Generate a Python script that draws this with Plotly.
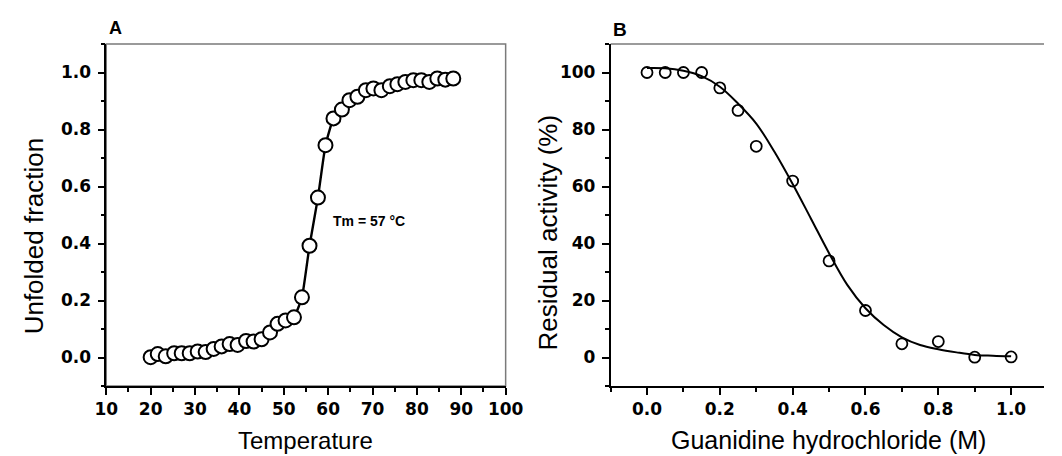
import plotly.graph_objects as go

# Panel A: thermal unfolding
temperature = [20.0, 21.6, 23.4, 25.3, 27.0, 28.8, 30.6, 32.4, 34.2, 36.0, 37.8, 39.6,
               41.5, 43.2, 45.0, 46.9, 48.6, 50.4, 52.3, 54.1, 55.8, 57.7, 59.4, 61.2,
               63.1, 64.8, 66.6, 68.5, 70.2, 72.0, 73.9, 75.6, 77.4, 79.2, 81.0, 82.8,
               84.6, 86.4, 88.2]
unfolded = [0.001, 0.012, 0.004, 0.015, 0.015, 0.015, 0.021, 0.019, 0.030, 0.039, 0.047, 0.044,
            0.058, 0.056, 0.064, 0.088, 0.118, 0.130, 0.141, 0.211, 0.392, 0.561, 0.745, 0.839,
            0.870, 0.903, 0.915, 0.938, 0.944, 0.938, 0.952, 0.959, 0.967, 0.973, 0.973, 0.967,
            0.979, 0.975, 0.979]

# Panel B: GdnHCl inactivation
gdn = [0.0, 0.05, 0.10, 0.15, 0.20, 0.25, 0.30, 0.40, 0.50, 0.60, 0.70, 0.80, 0.90, 1.00]
activity = [100.0, 100.0, 100.0, 100.0, 94.6, 86.7, 74.1, 61.9, 33.9, 16.5, 4.8, 5.6, 0.1, 0.2]

# fitted curve
fit_x = [0.0, 0.05, 0.10, 0.15, 0.20, 0.25, 0.30, 0.35, 0.40, 0.45, 0.50,
         0.55, 0.60, 0.65, 0.70, 0.75, 0.80, 0.85, 0.90, 0.95, 1.00]
fit_y = [101.6, 101.5, 100.6, 98.7, 95.0, 89.1, 82.1, 72.2, 60.9, 48.8, 36.6,
         25.5, 17.3, 11.4, 7.1, 4.4, 2.9, 1.8, 0.9, 0.6, 0.4]

W, H = 1062, 456
def px(x):
    return x / W
def py(y):
    return 1 - y / H

fig = go.Figure()
fig.add_trace(go.Scatter(x=temperature, y=unfolded, mode="lines+markers",
                         line=dict(color="black", width=2.4, shape="spline", smoothing=0.4),
                         marker=dict(symbol="circle", size=14, color="white",
                                     line=dict(color="black", width=2)),
                         xaxis="x", yaxis="y", showlegend=False))
fig.add_trace(go.Scatter(x=fit_x, y=fit_y, mode="lines",
                         line=dict(color="black", width=2, shape="spline"),
                         xaxis="x2", yaxis="y2", showlegend=False))
fig.add_trace(go.Scatter(x=gdn, y=activity, mode="markers",
                         marker=dict(symbol="circle", size=11, color="rgba(255,255,255,0)",
                                     line=dict(color="black", width=1.8)),
                         xaxis="x2", yaxis="y2", showlegend=False))

tickfont = dict(family="DejaVu Sans", size=17, color="black", weight="bold")
common = dict(showline=True, linecolor="black", linewidth=1.5, ticks="outside",
              ticklen=7, tickwidth=1.5, tickcolor="black", showgrid=False,
              zeroline=False, tickfont=tickfont, mirror=False)

ydom = [py(386), py(44)]
fig.update_layout(
    width=W, height=H,
    margin=dict(l=0, r=0, t=0, b=0),
    paper_bgcolor="white", plot_bgcolor="white",
    xaxis=dict(domain=[px(97), px(508)], range=[10, 100], tick0=10, dtick=10,
               anchor="y", ticklabelstandoff=0,
               minor=dict(ticks="outside", ticklen=4, dtick=5, tick0=10, tickcolor="black", tickwidth=1.5),
               **common),
    yaxis=dict(domain=ydom, range=[-0.1, 1.1], tick0=0, dtick=0.2, tickformat=".1f",
               anchor="x", ticklabelstandoff=3,
               minor=dict(ticks="outside", ticklen=4, dtick=0.1, tick0=0, tickcolor="black", tickwidth=1.5),
               **common),
    xaxis2=dict(domain=[px(616), 1.0], range=[-0.1, -0.1 + (W - 616) / 374.7], tick0=0, dtick=0.2,
                tickformat=".1f", anchor="y2", ticklabelstandoff=0,
                minor=dict(ticks="outside", ticklen=4, dtick=0.1, tick0=0, tickcolor="black", tickwidth=1.5),
                **common),
    yaxis2=dict(domain=ydom, range=[-10, 110], tick0=0, dtick=20,
                anchor="x2", ticklabelstandoff=3,
                minor=dict(ticks="outside", ticklen=4, dtick=10, tick0=0, tickcolor="black", tickwidth=1.5),
                **common),
)

# gray top/right frame lines
fig.add_shape(type="rect", xref="x domain", yref="y domain", x0=0, x1=1, y0=0, y1=1,
              line=dict(color="#7a7a7a", width=1.5), layer="below")
fig.add_shape(type="line", xref="x2 domain", yref="y2 domain", x0=0, x1=1, y0=1, y1=1,
              line=dict(color="#7a7a7a", width=1.5), layer="below")

title_font = dict(family="Liberation Sans", size=26, color="black")
fig.add_annotation(text="Unfolded fraction", x=px(23), y=py(236), xref="paper", yref="paper",
                   textangle=-90, showarrow=False, font=title_font, xanchor="center", yanchor="middle")
fig.add_annotation(text="Residual activity (%)", x=px(552), y=py(232), xref="paper", yref="paper",
                   textangle=-90, showarrow=False, font=title_font, xanchor="center", yanchor="middle")
fig.add_annotation(text="Temperature", x=px(302), y=py(440), xref="paper", yref="paper",
                   showarrow=False, font=dict(family="Liberation Sans", size=24, color="black"),
                   xanchor="center", yanchor="middle")
fig.add_annotation(text="Guanidine hydrochloride (M)", x=px(840), y=py(440), xref="paper", yref="paper",
                   showarrow=False, font=dict(family="Liberation Sans", size=25, color="black"),
                   xanchor="center", yanchor="middle")
fig.add_annotation(text="<b>A</b>", x=px(107), y=py(28), xref="paper", yref="paper",
                   showarrow=False, font=dict(family="Liberation Sans", size=18, color="black"),
                   xanchor="center", yanchor="middle")
fig.add_annotation(text="<b>B</b>", x=px(626), y=py(30), xref="paper", yref="paper",
                   showarrow=False, font=dict(family="Liberation Sans", size=19, color="black"),
                   xanchor="center", yanchor="middle")
fig.add_annotation(text="<b>Tm = 57 °C</b>", x=69.2, y=0.48, xref="x", yref="y",
                   showarrow=False, font=dict(family="Liberation Sans", size=14, color="black"),
                   xanchor="center", yanchor="middle")

fig.write_html("out.html", config={"displayModeBar": False},
               post_script="document.body.style.margin='0';document.body.style.overflow='hidden';")
